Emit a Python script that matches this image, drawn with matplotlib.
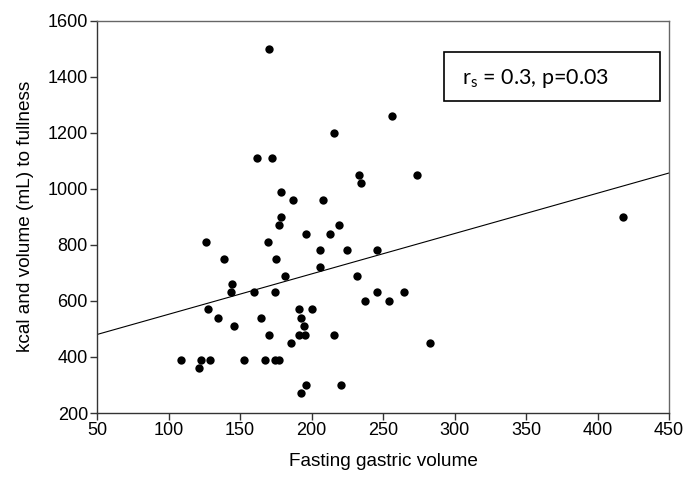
import matplotlib
matplotlib.use("Agg")
import matplotlib.pyplot as plt
from matplotlib.patches import Rectangle

# Data
gastric_volume = [170.5, 162, 172.5, 178.5, 187, 208, 178.5, 256.5, 215.5, 233.5,
                  234.5, 274, 177, 219, 196, 213, 126, 169.5, 138.5, 175.5,
                  206, 225, 245.5, 206, 181.5, 231.5, 144.5, 144, 160, 174.5,
                  245.5, 264.5, 237.5, 254.5, 127.5, 191.5, 200, 134.5, 164.5, 193,
                  146, 194.5, 170.5, 191.5, 195.5, 216, 186, 283, 109, 123,
                  129, 153, 167.5, 174.5, 177.5, 121.5, 196, 220.5, 193, 417.5]
kcal_fullness = [1500, 1110, 1110, 990, 960, 960, 900, 1260, 1200, 1050,
                 1020, 1050, 870, 870, 840, 840, 810, 810, 750, 750,
                 780, 780, 780, 720, 690, 690, 660, 630, 630, 630,
                 630, 630, 600, 600, 570, 570, 570, 540, 540, 540,
                 510, 510, 480, 480, 480, 480, 450, 450, 390, 390,
                 390, 390, 390, 390, 390, 360, 300, 300, 270, 900]
fit_x = [50, 450]
fit_y = [480, 1056]
x_ticks = [50, 100, 150, 200, 250, 300, 350, 400, 450]
y_ticks = [200, 400, 600, 800, 1000, 1200, 1400, 1600]
annotation = r"r$_\mathregular{s}$ = 0.3, p=0.03"

label_font = ['Liberation Sans', 'DejaVu Sans']

fig = plt.figure(figsize=(6.98, 4.8), dpi=100)
ax = fig.add_axes([97/698, 1-413/480, (669-97)/698, (413-20.5)/480])

ax.scatter(gastric_volume, kcal_fullness, s=36, color='black', zorder=3, linewidths=0)
ax.plot(fit_x, fit_y, color='black', lw=0.8, zorder=2)

ax.set_xlim(50, 450)
ax.set_ylim(200, 1600)
ax.set_xticks(x_ticks)
ax.set_yticks(y_ticks)
ax.tick_params(direction='out', length=5, width=1, color='#333333',
               labelsize=13, pad=1.5)
for lab in ax.get_xticklabels() + ax.get_yticklabels():
    lab.set_family(label_font)

for s in ['left', 'bottom']:
    ax.spines[s].set_color('#333333')
for s in ['top', 'right']:
    ax.spines[s].set_color('#666666')
for s in ax.spines.values():
    s.set_linewidth(1)

ax.set_xlabel('Fasting gastric volume', family=label_font, fontsize=13.7)
ax.set_ylabel('kcal and volume (mL) to fullness', family=label_font, fontsize=13.7)
ax.xaxis.label.set_va('center')
ax.yaxis.label.set_va('center')
ax.xaxis.set_label_coords(0.5, (413-462)/392.5)
ax.yaxis.set_label_coords((26-97)/572, 0.5)

# annotation box
x0, x1 = (444-97)/572, (660-97)/572
y0, y1 = (413-100.7)/392.5, (413-52.3)/392.5
ax.add_patch(Rectangle((x0, y0), x1-x0, y1-y0, transform=ax.transAxes,
                       facecolor='white', edgecolor='black', lw=1.2, zorder=4))
ax.text((461.7-97)/572, (413-79)/392.5, annotation, transform=ax.transAxes,
        ha='left', va='center', fontsize=15.5, family=['Lato', 'DejaVu Sans'], zorder=5)

fig.savefig('out.png', dpi=100)
